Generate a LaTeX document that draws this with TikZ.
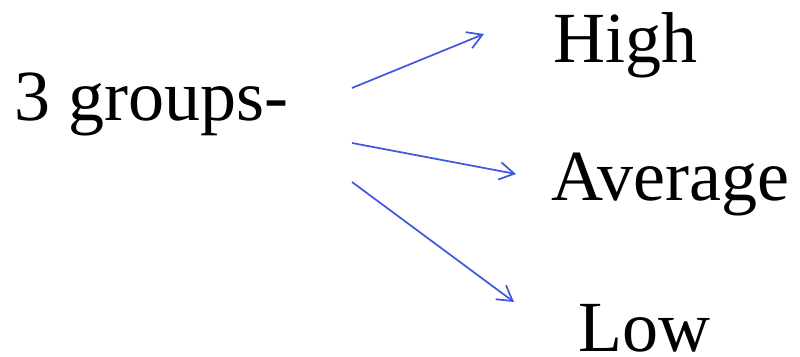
\documentclass[tikz,border=0pt]{standalone}
\usepackage{fontspec}
\setmainfont{Liberation Serif}
\usepackage{xcolor}
\usetikzlibrary{arrows.meta}
\definecolor{grouparrow}{RGB}{62,88,226}
\tikzset{
  bigword/.style={anchor=base west,inner sep=0pt,font=\fontsize{54}{60}\selectfont},
  grouparc/.style={-{Straight Barb[length=11pt,width=13pt,line width=1.3pt]},line width=1.3pt,grouparrow}
}

\begin{document}
\begin{tikzpicture}[x=0.75pt,y=-0.75pt]
  \useasboundingbox (0,0) rectangle (800,357);
  \node[bigword] (groups)  at (14,120) {3 groups-};
  \node[bigword] (high)    at (553,62) {High};
  \node[bigword] (average) at (551,200) {Average};
  \node[bigword] (low)     at (578,351) {Low};

  \coordinate (s1) at (352,88);
  \coordinate (s2) at (352,143);
  \coordinate (s3) at (352,182);
  \coordinate (t1) at (484,34);
  \coordinate (t2) at (516,174);
  \coordinate (t3) at (514,302);

  \draw[grouparc] (s1) -- (t1);
  \draw[grouparc] (s2) -- (t2);
  \draw[grouparc] (s3) -- (t3);
\end{tikzpicture}
\end{document}
